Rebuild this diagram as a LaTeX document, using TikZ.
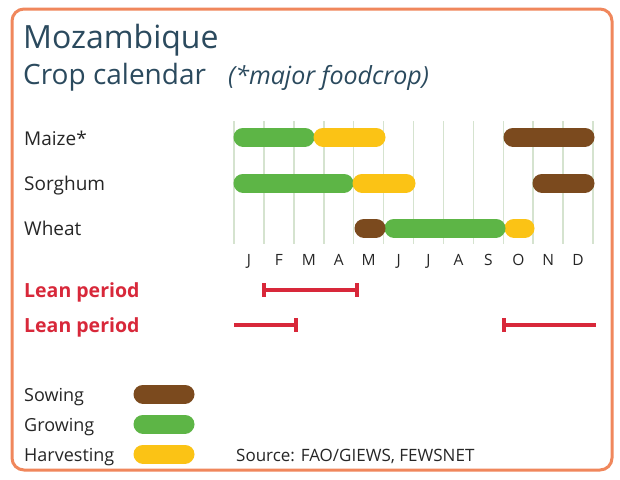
\documentclass[tikz,border=0pt]{standalone}
\usepackage{fontspec}
\setmainfont{Open Sans}
\definecolor{frameor}{HTML}{F0875C}
\definecolor{titleblue}{HTML}{2B4A5E}
\definecolor{gridc}{HTML}{D5E3CF}
\definecolor{growc}{HTML}{5DB546}
\definecolor{harvc}{HTML}{FBC315}
\definecolor{sowc}{HTML}{7B4A1E}
\definecolor{leanred}{HTML}{D8283A}
\definecolor{txt}{HTML}{262626}
\tikzset{
  pill/.style={line width=19pt, line cap=round},
  croplabel/.style={anchor=base west, font=\fontsize{19}{19}\selectfont, text=txt, inner sep=0pt},
  legendlabel/.style={anchor=base west, font=\fontsize{18}{18}\selectfont, text=txt, inner sep=0pt},
  monthlabel/.style={anchor=base, font=\fontsize{15.5}{15.5}\selectfont, text=txt, inner sep=0pt},
  leanlabel/.style={anchor=base west, font=\fontsize{19.5}{19.5}\selectfont\bfseries, text=leanred, inner sep=0pt},
  leanbar/.style={draw=leanred, line width=3.5pt},
}
\begin{document}
\begin{tikzpicture}[x=1pt,y=-1pt]
\useasboundingbox (0,0) rectangle (620,479);
\fill[white] (0,0) rectangle (620,479);
\draw[frameor, line width=3pt, rounded corners=12pt] (12,9) rectangle (612,470);
% titles
\node[anchor=base west, inner sep=0pt, text=titleblue, font=\fontsize{32}{32}\selectfont] (title) at (23,48) {Mozambique};
\node[anchor=base west, inner sep=0pt, text=titleblue, font=\fontsize{28}{28}\selectfont] (sub) at (23,84) {Crop calendar};
\node[anchor=base west, inner sep=0pt, text=titleblue, font=\fontsize{25}{25}\selectfont\itshape] (note) at (228,84) {(*major foodcrop)};
% grid
\foreach \i in {0,...,12} {
  \draw[gridc, line width=1.5pt] ({234+\i*29.92},121) -- ({234+\i*29.92},244);
}
% month labels
\foreach \m [count=\i from 0] in {J,F,M,A,M,J,J,A,S,O,N,D} {
  \node[monthlabel] (m\i) at ({249+\i*29.92},265) {\m};
}
% crop labels
\node[croplabel] (maize) at (24,145) {Maize*};
\node[croplabel] (sorghum) at (24,190) {Sorghum};
\node[croplabel] (wheat) at (24,235) {Wheat};
% maize
\draw[pill, growc] (243,137) -- (305,137);
\draw[pill, harvc] (323,137) -- (376,137);
\draw[pill, sowc] (513,137) -- (585,137);
% sorghum
\draw[pill, growc] (243,183) -- (344,183);
\draw[pill, harvc] (362,183) -- (406,183);
\draw[pill, sowc] (542,183) -- (585,183);
% wheat
\draw[pill, harvc] (514,228) -- (525,228);
\draw[pill, growc] (394,228) -- (496,228);
\draw[pill, sowc] (364,228) -- (376,228);
% lean periods
\node[leanlabel] (lean1) at (24,297) {Lean period};
\node[leanlabel] (lean2) at (24,332) {Lean period};
\draw[leanbar] (264,290) -- (357,290);
\draw[leanbar] (264,283) -- (264,297);
\draw[leanbar] (357,283) -- (357,297);
\draw[leanbar] (234,325) -- (296,325);
\draw[leanbar] (296,318) -- (296,332);
\draw[leanbar] (504,325) -- (596,325);
\draw[leanbar] (504,318) -- (504,332);
% legend
\node[legendlabel] (sow) at (24,401) {Sowing};
\node[legendlabel] (grow) at (24,431) {Growing};
\node[legendlabel] (harv) at (24,461) {Harvesting};
\draw[pill, sowc] (143,394) -- (185,394);
\draw[pill, growc] (143,424) -- (185,424);
\draw[pill, harvc] (143,454) -- (185,454);
\node[anchor=base west, inner sep=0pt, text=txt, font=\fontsize{17}{17}\selectfont] (src) at (236,461) {Source: FAO/GIEWS, FEWSNET};
\end{tikzpicture}
\end{document}
